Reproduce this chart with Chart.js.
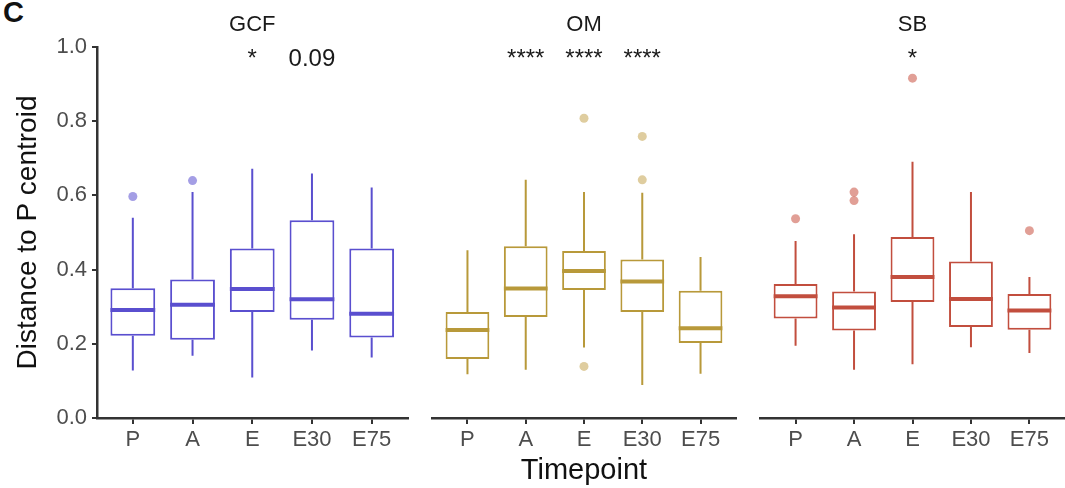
<!DOCTYPE html>
<html>
<head>
<meta charset="utf-8">
<script src="https://cdn.jsdelivr.net/npm/chart.js@4"></script>
<style>
    html, body { margin: 0; padding: 0; background: #fff; overflow: hidden; }
    #wrap { position: relative; width: 1065px; height: 488px; overflow: hidden; }
    canvas { position: absolute; top: 0; }
    #tag { position: absolute; left: 3px; top: -2px; font: bold 29px 'Liberation Sans', Arial, sans-serif; line-height: 29px; color: #111; }
</style>
</head>
<body>
<div id="wrap">
    <div id="tag">C</div>
    <canvas id="gcfChart" width="412" height="488" style="left:0px"></canvas>
    <canvas id="omChart" width="312" height="488" style="left:428px"></canvas>
    <canvas id="sbChart" width="313" height="488" style="left:756px"></canvas>
</div>
<script>
const timepoints = ['P', 'A', 'E', 'E30', 'E75'];
const yTicks = [0, 0.2, 0.4, 0.6, 0.8, 1.0];

// GCF
const gcfLow = [0.128, 0.168, 0.109, 0.182, 0.163];
const gcfQ1 = [0.222, 0.211, 0.286, 0.265, 0.217];
const gcfMedian = [0.291, 0.305, 0.348, 0.320, 0.281];
const gcfQ3 = [0.350, 0.373, 0.457, 0.533, 0.457];
const gcfHigh = [0.540, 0.609, 0.672, 0.659, 0.621];
const gcfOutliers = [[0.597], [0.640], [], [], []];
const gcfSig = ['', '', '*', '0.09', ''];

// OM
const omLow = [0.118, 0.130, 0.190, 0.089, 0.119];
const omQ1 = [0.159, 0.272, 0.345, 0.286, 0.202];
const omMedian = [0.237, 0.349, 0.396, 0.368, 0.242];
const omQ3 = [0.286, 0.463, 0.450, 0.427, 0.343];
const omHigh = [0.452, 0.642, 0.609, 0.607, 0.434];
const omOutliers = [[], [], [0.808, 0.139], [0.759, 0.642], []];
const omSig = ['', '****', '****', '****', ''];

// SB
const sbLow = [0.195, 0.130, 0.145, 0.191, 0.175];
const sbQ1 = [0.268, 0.236, 0.313, 0.245, 0.238];
const sbMedian = [0.328, 0.298, 0.380, 0.321, 0.290];
const sbQ3 = [0.361, 0.341, 0.488, 0.422, 0.334];
const sbHigh = [0.477, 0.495, 0.691, 0.609, 0.380];
const sbOutliers = [[0.537], [0.609, 0.586], [0.916], [], [0.505]];
const sbSig = ['', '', '*', '', ''];

// height (data units) where the significance marks sit
const SIG_Y = 0.95;

Chart.defaults.font.family = "'Liberation Sans', Arial, sans-serif";
Chart.defaults.color = '#4d4d4d';

// whiskers, medians and significance text for one panel
function boxplotPlugin(stats) {
    return {
        id: 'boxplotLines',
        beforeDatasetsDraw(chart) {
            const ctx = chart.ctx;
            const x = chart.scales.x, y = chart.scales.y;
            ctx.save();
            ctx.strokeStyle = stats.color;
            ctx.lineWidth = 2;
            timepoints.forEach((t, i) => {
                const px = x.getPixelForValue(i);
                ctx.beginPath();
                ctx.moveTo(px, y.getPixelForValue(stats.low[i]));
                ctx.lineTo(px, y.getPixelForValue(stats.q1[i]));
                ctx.moveTo(px, y.getPixelForValue(stats.q3[i]));
                ctx.lineTo(px, y.getPixelForValue(stats.high[i]));
                ctx.stroke();
            });
            ctx.restore();
        },
        afterDatasetsDraw(chart) {
            const ctx = chart.ctx;
            const y = chart.scales.y;
            const boxes = chart.getDatasetMeta(0).data;
            ctx.save();
            ctx.strokeStyle = stats.color;
            ctx.lineWidth = 4;
            boxes.forEach((bar, i) => {
                const py = y.getPixelForValue(stats.median[i]);
                ctx.beginPath();
                ctx.moveTo(bar.x - bar.width / 2, py);
                ctx.lineTo(bar.x + bar.width / 2, py);
                ctx.stroke();
            });
            ctx.fillStyle = '#1a1a1a';
            ctx.font = "24px 'Liberation Sans', Arial, sans-serif";
            ctx.textAlign = 'center';
            ctx.textBaseline = 'alphabetic';
            stats.sig.forEach((s, i) => {
                if (!s) return;
                ctx.fillText(s, chart.scales.x.getPixelForValue(i), y.getPixelForValue(SIG_Y));
            });
            ctx.restore();
        }
    };
}

function drawPanel(canvasId, title, stats, opts) {
    const ctx = document.getElementById(canvasId).getContext('2d');
    const outlierPoints = stats.outliers.flatMap((vals, i) => vals.map(v => ({ x: i, y: v })));
    const yWidth = opts.showY ? 97 : 0;

    new Chart(ctx, {
        type: 'bar',
        data: {
            datasets: [{
                label: title,
                data: timepoints.map((t, i) => ({ x: i, y: [stats.q1[i], stats.q3[i]] })),
                backgroundColor: '#ffffff',
                borderColor: stats.color,
                borderWidth: 2,
                borderSkipped: false,
                barPercentage: 0.75,
                categoryPercentage: 1.0,
                order: 2
            }, {
                type: 'scatter',
                label: title + ' outliers',
                data: outlierPoints,
                backgroundColor: stats.pointColor,
                borderWidth: 0,
                pointRadius: 4.5,
                order: 1
            }]
        },
        options: {
            responsive: false,
            animation: false,
            devicePixelRatio: 1,
            layout: { padding: 0 },
            plugins: {
                legend: { display: false },
                tooltip: { enabled: false },
                title: {
                    display: true,
                    text: title,
                    fullSize: false,
                    color: '#1a1a1a',
                    font: { size: 22, weight: 'normal' },
                    padding: { top: 12, bottom: 8.6 }
                }
            },
            scales: {
                x: {
                    type: 'linear',
                    min: -0.6,
                    max: 4.6,
                    offset: false,
                    afterFit: scale => { scale.height = 70; },
                    border: { display: true, color: '#333', width: 2.5 },
                    grid: { drawOnChartArea: false, offset: false, color: '#333', lineWidth: 2, tickLength: 6 },
                    ticks: {
                        stepSize: 1,
                        includeBounds: false,
                        autoSkip: false,
                        maxRotation: 0,
                        padding: 3,
                        color: '#4d4d4d',
                        font: { size: 22 },
                        callback: v => timepoints[v] !== undefined ? timepoints[v] : ''
                    },
                    title: {
                        display: !!opts.xTitle,
                        text: opts.xTitle || '',
                        color: '#111',
                        font: { size: 29 },
                        padding: { top: 0, bottom: 0 }
                    }
                },
                y: {
                    display: !!opts.showY,
                    min: 0,
                    max: 1,
                    afterFit: scale => { scale.width = yWidth; },
                    border: { display: true, color: '#333', width: 2.5 },
                    grid: { drawOnChartArea: false, color: '#333', lineWidth: 2, tickLength: 5 },
                    afterBuildTicks: scale => { scale.ticks = yTicks.map(v => ({ value: v })); },
                    ticks: {
                        padding: 5,
                        color: '#4d4d4d',
                        font: { size: 22 },
                        callback: v => v.toFixed(1)
                    },
                    title: {
                        display: true,
                        text: 'Distance to P centroid',
                        color: '#111',
                        font: { size: 28 },
                        padding: { top: 11, bottom: 0 }
                    }
                }
            }
        },
        plugins: [boxplotPlugin(stats)]
    });
}

drawPanel('gcfChart', 'GCF', {
    low: gcfLow, q1: gcfQ1, median: gcfMedian, q3: gcfQ3, high: gcfHigh,
    outliers: gcfOutliers, sig: gcfSig,
    color: '#5a4fcf', pointColor: 'rgba(90, 79, 207, 0.55)'
}, { showY: true });

drawPanel('omChart', 'OM', {
    low: omLow, q1: omQ1, median: omMedian, q3: omQ3, high: omHigh,
    outliers: omOutliers, sig: omSig,
    color: '#b8993a', pointColor: 'rgba(196, 164, 80, 0.55)'
}, { xTitle: 'Timepoint' });

drawPanel('sbChart', 'SB', {
    low: sbLow, q1: sbQ1, median: sbMedian, q3: sbQ3, high: sbHigh,
    outliers: sbOutliers, sig: sbSig,
    color: '#c24e3e', pointColor: 'rgba(200, 80, 64, 0.55)'
}, {});
</script>
</body>
</html>
